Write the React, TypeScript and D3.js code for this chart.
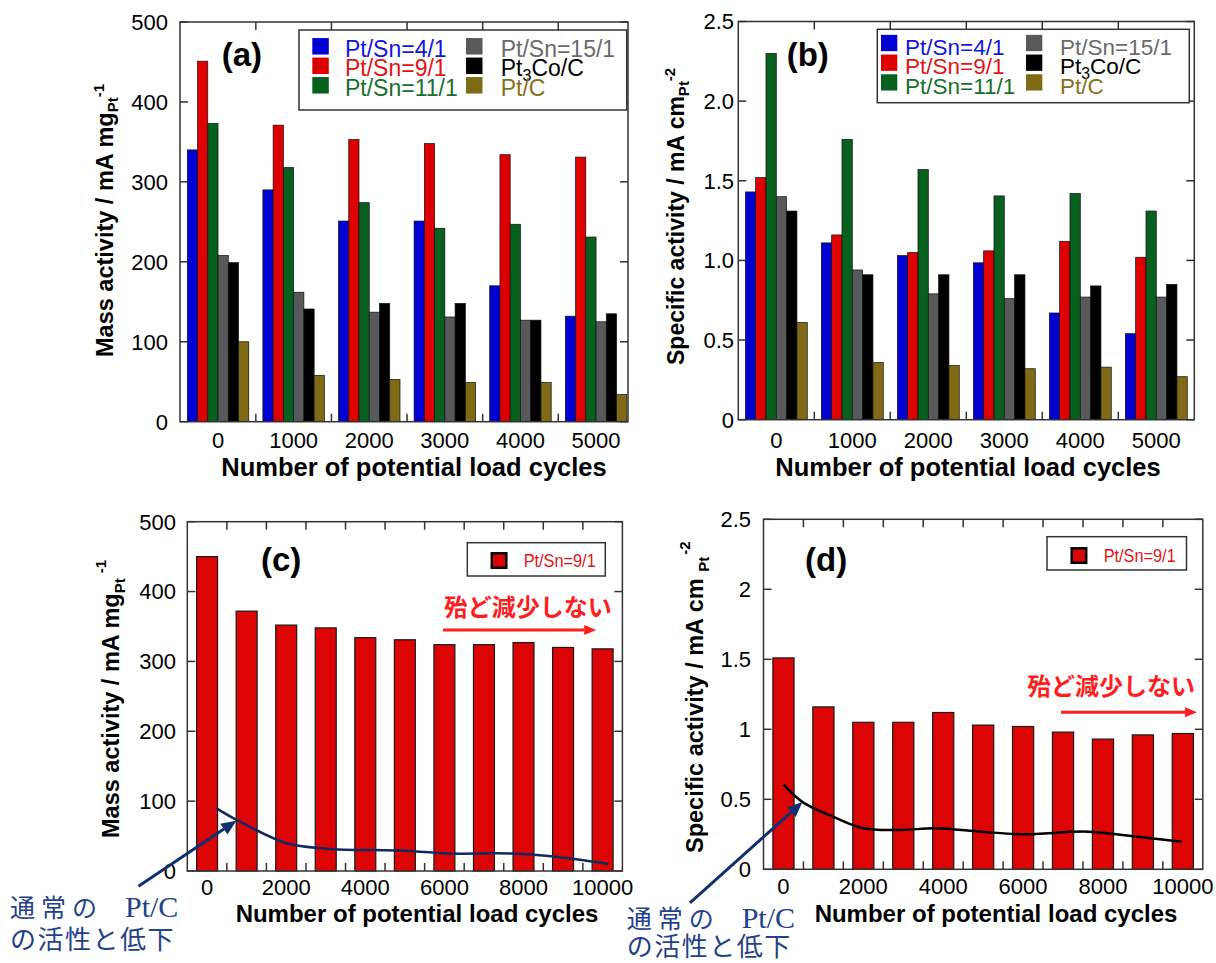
import React from "react";
import * as d3 from "d3";

// ---- values ----
const cycleLabels = ["0", "1000", "2000", "3000", "4000", "5000"];
const seriesNames = ["Pt/Sn=4/1", "Pt/Sn=9/1", "Pt/Sn=11/1", "Pt/Sn=15/1", "Pt3Co/C", "Pt/C"];
const barColors = ["#0000d2", "#de0000", "#08601f", "#58595b", "#000000", "#7f6b15"];
const textColors = ["#1414e0", "#e01414", "#15702b", "#6a6a6a", "#000000", "#85711a"];

// (a) mass activity, mA/mgPt
const massPtSn4 = [340, 290, 251, 251, 170, 132];
const massPtSn9 = [451, 371, 353, 348, 334, 331];
const massPtSn11 = [373, 318, 274, 242, 247, 231];
const massPtSn15 = [208, 162, 137, 131, 127, 125];
const massPt3Co = [199, 141, 148, 148, 127, 135];
const massPtC = [100, 58, 53, 49, 49, 34];

// (b) specific activity, mA/cm2Pt
const specPtSn4 = [1.43, 1.11, 1.03, 0.985, 0.67, 0.54];
const specPtSn9 = [1.52, 1.16, 1.05, 1.06, 1.12, 1.02];
const specPtSn11 = [2.3, 1.76, 1.57, 1.405, 1.42, 1.31];
const specPtSn15 = [1.4, 0.94, 0.79, 0.76, 0.77, 0.77];
const specPt3Co = [1.31, 0.91, 0.91, 0.91, 0.84, 0.85];
const specPtC = [0.61, 0.36, 0.34, 0.32, 0.33, 0.27];

const massTicks = [0, 100, 200, 300, 400, 500];
const specTicks = [0, 0.5, 1, 1.5, 2, 2.5];
const specTickLabelsB = ["0", "0.5", "1.0", "1.5", "2.0", "2.5"];
const specTickLabelsD = ["0", "0.5", "1", "1.5", "2", "2.5"];

// (c), (d) Pt/Sn=9/1 up to 10000 cycles
const longCycles = [0, 1000, 2000, 3000, 4000, 5000, 6000, 7000, 8000, 9000, 10000];
const massPtSn9Long = [450, 372, 352, 348, 334, 331, 324, 324, 327, 320, 318];
const specPtSn9Long = [1.51, 1.16, 1.05, 1.05, 1.12, 1.03, 1.02, 0.98, 0.93, 0.96, 0.97];
const longTickLabels = [0, 2000, 4000, 6000, 8000, 10000];
const longMinorTicks = [500, 1500, 2500, 3500, 4500, 5500, 6500, 7500, 8500, 9500];

// usual Pt/C trend drawn as a guide curve
const ptcMassCycles = [230, 750, 2000, 3000, 5000, 6100, 7700, 8700, 10150];
const ptcMassValues = [90, 73, 40, 32, 29, 25, 25, 21, 10];
const ptcSpecCycles = [0, 480, 1240, 2000, 2950, 3810, 4950, 6000, 7620, 8860, 9980];
const ptcSpecValues = [0.607, 0.48, 0.376, 0.293, 0.281, 0.293, 0.269, 0.25, 0.269, 0.233, 0.197];

const FONT = "'Liberation Sans', Arial, Helvetica, sans-serif";
const JP_SERIF = "'Liberation Serif', 'Noto Sans CJK JP', serif";
const JP_SANS = "'Noto Sans CJK JP', sans-serif";
const FRAME = "#333";
const TICK = 8;

const Arrow = ({ x1, y1, x2, y2, color, width, headLen, headW }) => {
  const a = Math.atan2(y2 - y1, x2 - x1);
  const bx = x2 - headLen * Math.cos(a);
  const by = y2 - headLen * Math.sin(a);
  const px = (-Math.sin(a) * headW) / 2;
  const py = (Math.cos(a) * headW) / 2;
  return (
    <g>
      <line x1={x1} y1={y1} x2={bx} y2={by} stroke={color} strokeWidth={width} />
      <polygon points={`${x2},${y2} ${bx + px},${by + py} ${bx - px},${by - py}`} fill={color} />
    </g>
  );
};

const LegendName = ({ name }) => {
  if (name === "Pt3Co/C") {
    return (
      <>
        Pt<tspan dy={5} fontSize="0.7em">3</tspan>
        <tspan dy={-5}>Co/C</tspan>
      </>
    );
  }
  return <>{name}</>;
};

const YLabel = ({ x, y, main, sub, sup, size, subDy, supDy, supDx = 0 }) => (
  <text
    transform={`translate(${x},${y}) rotate(-90)`}
    fontFamily={FONT}
    fontWeight="bold"
    fontSize={size}
    fill="#000"
  >
    {main}
    <tspan dy={subDy} fontSize={15}>{sub}</tspan>
    <tspan dy={supDy} dx={supDx} fontSize={15}>{sup}</tspan>
  </text>
);

const GroupedPanel = ({ cfg, series }) => {
  const x = d3
    .scaleBand()
    .domain(cycleLabels)
    .range([cfg.left, cfg.right])
    .paddingInner(cfg.padInner)
    .paddingOuter(cfg.padOuter)
    .align(cfg.align);
  const inner = d3
    .scaleBand()
    .domain(d3.range(series.length).map(String))
    .range([0, x.bandwidth()]);
  const y = d3.scaleLinear().domain([0, cfg.yMax]).range([cfg.bottom, cfg.top]);
  const bounds = cycleLabels
    .slice(1)
    .map((c, i) => (x(cycleLabels[i]) + x.bandwidth() + x(c)) / 2);
  const lg = cfg.legend;

  return (
    <g>
      {series.map((vals, s) =>
        vals.map((v, i) => (
          <rect
            key={`${s}-${i}`}
            x={x(cycleLabels[i]) + inner(String(s))}
            y={y(v)}
            width={inner.bandwidth()}
            height={y(0) - y(v)}
            fill={barColors[s]}
            stroke="#111"
            strokeWidth={0.7}
          />
        ))
      )}
      <rect
        x={cfg.left}
        y={cfg.top}
        width={cfg.right - cfg.left}
        height={cfg.bottom - cfg.top}
        fill="none"
        stroke={FRAME}
        strokeWidth={1.5}
      />
      {cfg.ticks.map((t, i) => (
        <g key={`yt${i}`}>
          <line x1={cfg.left} x2={cfg.left + TICK} y1={y(t)} y2={y(t)} stroke={FRAME} strokeWidth={1.5} />
          <line x1={cfg.right - TICK} x2={cfg.right} y1={y(t)} y2={y(t)} stroke={FRAME} strokeWidth={1.5} />
          <text
            x={cfg.tickLabelRight}
            y={y(t)}
            dy="0.36em"
            textAnchor="end"
            fontFamily={FONT}
            fontSize={22}
          >
            {cfg.tickLabels[i]}
          </text>
        </g>
      ))}
      {bounds.map((b, i) => (
        <g key={`xt${i}`}>
          <line x1={b} x2={b} y1={cfg.bottom} y2={cfg.bottom - TICK} stroke={FRAME} strokeWidth={1.5} />
          <line x1={b} x2={b} y1={cfg.top} y2={cfg.top + TICK} stroke={FRAME} strokeWidth={1.5} />
        </g>
      ))}
      {cycleLabels.map((c) => (
        <text
          key={c}
          x={x(c) + x.bandwidth() / 2}
          y={cfg.xLabelBaseline}
          textAnchor="middle"
          fontFamily={FONT}
          fontSize={22}
        >
          {c}
        </text>
      ))}
      <text
        x={cfg.titleX}
        y={cfg.titleBaseline}
        textAnchor="middle"
        fontFamily={FONT}
        fontWeight="bold"
        fontSize={25.5}
      >
        Number of potential load cycles
      </text>
      <YLabel {...cfg.yLabel} />
      <text x={cfg.letterX} y={cfg.letterBaseline} fontFamily={FONT} fontWeight="bold" fontSize={33}>
        {cfg.letter}
      </text>

      {/* legend */}
      <rect x={lg.x} y={lg.y} width={lg.w} height={lg.h} fill="#fff" stroke={FRAME} strokeWidth={1.5} />
      {seriesNames.map((name, s) => {
        const col = s < 3 ? 0 : 1;
        const cy = lg.rowStart + (s % 3) * lg.rowGap;
        return (
          <g key={name}>
            <rect
              x={lg.sqX[col]}
              y={cy - lg.sq / 2}
              width={lg.sq}
              height={lg.sq}
              fill={barColors[s]}
            />
            <text
              x={lg.textX[col]}
              y={cy + lg.baseOff}
              fontFamily={FONT}
              fontSize={lg.font}
              fill={textColors[s]}
            >
              <LegendName name={name} />
            </text>
          </g>
        );
      })}
    </g>
  );
};

const SeriesPanel = ({ cfg, values, guideX, guideY }) => {
  const x = d3.scaleLinear().domain([-500, 10500]).range([cfg.left, cfg.right]);
  const y = d3.scaleLinear().domain([0, cfg.yMax]).range([cfg.bottom, cfg.top]);
  const bw = x(530) - x(0);
  const line = d3
    .line()
    .x((d) => x(d[0]))
    .y((d) => y(d[1]))
    .curve(d3.curveCatmullRom.alpha(0.5));
  const guide = line(guideX.map((c, i) => [c, guideY[i]]));
  const lg = cfg.legend;
  const an = cfg.note;

  return (
    <g>
      {longCycles.map((c, i) => (
        <rect
          key={c}
          x={x(c) - bw / 2}
          y={y(values[i])}
          width={bw}
          height={y(0) - y(values[i])}
          fill="#dc0404"
          stroke="#1a1a1a"
          strokeWidth={1.2}
        />
      ))}
      <rect
        x={cfg.left}
        y={cfg.top}
        width={cfg.right - cfg.left}
        height={cfg.bottom - cfg.top}
        fill="none"
        stroke={FRAME}
        strokeWidth={1.5}
      />
      {cfg.ticks.map((t, i) => (
        <g key={`yt${i}`}>
          <line x1={cfg.left} x2={cfg.left + TICK} y1={y(t)} y2={y(t)} stroke={FRAME} strokeWidth={1.5} />
          <line x1={cfg.right - TICK} x2={cfg.right} y1={y(t)} y2={y(t)} stroke={FRAME} strokeWidth={1.5} />
          <text x={cfg.tickLabelRight} y={y(t)} dy="0.36em" textAnchor="end" fontFamily={FONT} fontSize={22}>
            {cfg.tickLabels[i]}
          </text>
        </g>
      ))}
      {longMinorTicks.map((t) => (
        <g key={`xt${t}`}>
          <line x1={x(t)} x2={x(t)} y1={cfg.bottom} y2={cfg.bottom - TICK} stroke={FRAME} strokeWidth={1.5} />
          <line x1={x(t)} x2={x(t)} y1={cfg.top} y2={cfg.top + TICK} stroke={FRAME} strokeWidth={1.5} />
        </g>
      ))}
      {longTickLabels.map((t) => (
        <text key={t} x={x(t)} y={cfg.xLabelBaseline} textAnchor="middle" fontFamily={FONT} fontSize={22}>
          {t}
        </text>
      ))}
      <text
        x={cfg.titleX}
        y={cfg.titleBaseline}
        textAnchor="middle"
        fontFamily={FONT}
        fontWeight="bold"
        fontSize={24}
      >
        Number of potential load cycles
      </text>
      <YLabel {...cfg.yLabel} />
      <text x={cfg.letterX} y={cfg.letterBaseline} fontFamily={FONT} fontWeight="bold" fontSize={33}>
        {cfg.letter}
      </text>

      {/* legend */}
      <rect x={lg.x} y={lg.y} width={lg.w} height={lg.h} fill="#fff" stroke={FRAME} strokeWidth={1.5} />
      <rect x={lg.sqX} y={lg.sqY} width={lg.sq} height={lg.sq} fill="#dc0404" stroke="#000" strokeWidth={2.5} />
      <text
        x={lg.textX}
        y={lg.textY}
        fontFamily="'Liberation Sans Narrow', 'Liberation Sans', Arial, sans-serif"
        fontSize={18}
        fill="#e01414"
        textLength={72}
        lengthAdjust="spacingAndGlyphs"
      >
        Pt/Sn=9/1
      </text>

      {/* guide curve of usual Pt/C */}
      <path d={guide} fill="none" stroke={cfg.guideColor} strokeWidth={2.5} />
      <Arrow
        x1={x(an.tail[0])}
        y1={y(an.tail[1])}
        x2={x(an.head[0])}
        y2={y(an.head[1])}
        color="#10306e"
        width={3}
        headLen={15}
        headW={13}
      />
      <text x={an.textX} y={an.line1Y} fontFamily={JP_SERIF} fill="#24428a">
        <tspan fontSize={25} letterSpacing={6}>通常の</tspan>
        <tspan x={an.textX + 115} fontSize={30}>Pt/C</tspan>
      </text>
      <text x={an.textX} y={an.line2Y} fontFamily={JP_SERIF} fill="#24428a" fontSize={26} letterSpacing={1.5}>
        の活性と低下
      </text>

      {/* "almost no decrease" */}
      <text
        x={x(cfg.red.textAt[0])}
        y={y(cfg.red.textAt[1])}
        dy="0.36em"
        textAnchor="middle"
        fontFamily={JP_SANS}
        fontWeight="bold"
        fontSize={24}
        fill="#ff1e1e"
      >
        殆ど減少しない
      </text>
      <Arrow
        x1={x(cfg.red.from)}
        y1={y(cfg.red.level)}
        x2={x(cfg.red.to)}
        y2={y(cfg.red.level)}
        color="#ff1e1e"
        width={3}
        headLen={12}
        headW={10}
      />
    </g>
  );
};

const panelA = {
  left: 180,
  right: 628,
  top: 22,
  bottom: 421.7,
  yMax: 500,
  ticks: massTicks,
  tickLabels: massTicks.map(String),
  padInner: 0.1865,
  padOuter: 0.056,
  align: 0.86,
  tickLabelRight: 168,
  xLabelBaseline: 448,
  titleX: 414,
  titleBaseline: 476,
  letter: "(a)",
  letterX: 221.7,
  letterBaseline: 66,
  yLabel: { x: 113, y: 357, main: "Mass activity / mA mg", sub: "Pt", sup: "-1", size: 23.5, subDy: 5, supDy: -14 },
  legend: {
    x: 299, y: 30, w: 327.7, h: 80,
    sqX: [312.3, 466], textX: [345, 500.7],
    rowStart: 46.3, rowGap: 19.5, sq: 16.5, baseOff: 10.3, font: 23,
  },
};

const panelB = {
  left: 738.3,
  right: 1194.3,
  top: 21.5,
  bottom: 419.7,
  yMax: 2.5,
  ticks: specTicks,
  tickLabels: specTickLabelsB,
  padInner: 0.185,
  padOuter: 0.0925,
  align: 0.5,
  tickLabelRight: 734,
  xLabelBaseline: 448,
  titleX: 968,
  titleBaseline: 476,
  letter: "(b)",
  letterX: 786.7,
  letterBaseline: 66,
  yLabel: { x: 684, y: 365, main: "Specific activity / mA cm", sub: "Pt", sup: "-2", size: 23, subDy: 5, supDy: -14 },
  legend: {
    x: 877.3, y: 29.3, w: 312, h: 73.4,
    sqX: [881, 1026], textX: [905, 1060],
    rowStart: 43, rowGap: 19.7, sq: 16.3, baseOff: 11.5, font: 22.5,
  },
};

const panelC = {
  left: 187.3,
  right: 622.4,
  top: 521.7,
  bottom: 871,
  yMax: 500,
  ticks: massTicks,
  tickLabels: massTicks.map(String),
  tickLabelRight: 176,
  xLabelBaseline: 895,
  titleX: 417,
  titleBaseline: 922,
  letter: "(c)",
  letterX: 261,
  letterBaseline: 571,
  guideColor: "#13295e",
  yLabel: { x: 119, y: 838, main: "Mass activity / mA mg", sub: "Pt", sup: "-1", size: 23.5, subDy: 6, supDy: -19, supDx: 5 },
  legend: { x: 467.3, y: 542.7, w: 138, h: 33.3, sqX: 491.8, sqY: 553.3, sq: 14.5, textX: 523.7, textY: 566.5 },
  note: { tail: [-1735, -22], head: [740, 72], textX: 10, line1Y: 917, line2Y: 949 },
  red: { textAt: [8105, 377], from: 5968, to: 9838, level: 345 },
};

const panelD = {
  left: 763.5,
  right: 1202.8,
  top: 519.3,
  bottom: 869.3,
  yMax: 2.5,
  ticks: specTicks,
  tickLabels: specTickLabelsD,
  tickLabelRight: 751,
  xLabelBaseline: 893.5,
  titleX: 996,
  titleBaseline: 922,
  letter: "(d)",
  letterX: 805,
  letterBaseline: 571,
  guideColor: "#000",
  yLabel: { x: 703, y: 853, main: "Specific activity / mA cm ", sub: "Pt", sup: "-2", size: 23.5, subDy: 6, supDy: -19, supDx: 2 },
  legend: { x: 1047, y: 536.7, w: 139.5, h: 33.3, sqX: 1071.7, sqY: 548.3, sq: 14.5, textX: 1103.7, textY: 561.5 },
  note: { tail: [-2342, -0.239], head: [476, 0.48], textX: 626.7, line1Y: 928, line2Y: 956 },
  red: { textAt: [8199, 1.304], from: 6950, to: 10356, level: 1.121 },
};

export default function App() {
  return (
    <svg
      width={1216}
      height={963}
      style={{ position: "absolute", left: 0, top: 0, background: "#fff" }}
    >
      <GroupedPanel
        cfg={panelA}
        series={[massPtSn4, massPtSn9, massPtSn11, massPtSn15, massPt3Co, massPtC]}
      />
      <GroupedPanel
        cfg={panelB}
        series={[specPtSn4, specPtSn9, specPtSn11, specPtSn15, specPt3Co, specPtC]}
      />
      <SeriesPanel cfg={panelC} values={massPtSn9Long} guideX={ptcMassCycles} guideY={ptcMassValues} />
      <SeriesPanel cfg={panelD} values={specPtSn9Long} guideX={ptcSpecCycles} guideY={ptcSpecValues} />
    </svg>
  );
}
